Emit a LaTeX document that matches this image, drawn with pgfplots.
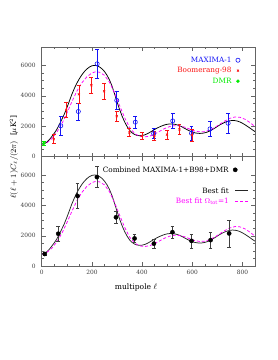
\documentclass[border=0pt]{standalone}
\usepackage{pgfplots}
\pgfplotsset{compat=1.18}
\usepackage{pgfplotstable}
\usepackage{fontspec}
\setmainfont{DejaVu Serif}
\definecolor{mblue}{RGB}{20,20,245}
\definecolor{bred}{RGB}{250,20,20}
\definecolor{dgreen}{RGB}{0,235,0}
\definecolor{mag}{RGB}{255,0,255}
\definecolor{framec}{RGB}{100,100,100}

\pgfplotstableread{
l v
2 820
10 850
20 950
30 1110
40 1320
50 1540
60 1790
70 2100
80 2440
90 2790
100 3200
110 3640
120 4090
130 4480
140 4830
150 5120
160 5380
170 5590
180 5760
190 5890
200 5970
210 6000
220 5980
230 5900
240 5780
250 5600
260 5360
270 5050
280 4650
290 4150
300 3620
310 3120
320 2680
330 2300
340 1990
350 1740
360 1570
370 1460
380 1400
390 1380
400 1390
410 1430
420 1500
430 1590
440 1690
450 1790
460 1880
470 1960
480 2030
490 2090
500 2130
510 2150
520 2150
530 2130
540 2090
550 2030
560 1950
570 1860
580 1770
590 1690
600 1620
610 1570
620 1540
630 1530
640 1540
650 1570
660 1620
670 1690
680 1780
690 1880
700 1990
710 2090
720 2180
730 2260
740 2320
750 2360
760 2380
770 2370
780 2340
790 2280
800 2200
810 2100
820 1990
830 1880
840 1760
850 1650
}\bestfit

\pgfplotstableread{
l v
2 800
20 900
40 1180
60 1600
80 2150
100 2850
120 3600
140 4300
160 4850
180 5250
200 5500
215 5580
230 5550
250 5350
270 4900
290 4200
310 3380
330 2580
350 1930
370 1530
390 1340
410 1300
430 1350
450 1490
470 1670
490 1850
510 1980
530 2040
550 2020
570 1940
590 1810
610 1690
630 1630
650 1650
670 1750
690 1920
710 2140
730 2350
750 2520
770 2610
790 2590
810 2460
830 2240
850 1980
}\flatfit

\pgfplotstableread{
l v e
76 2030 600
146 2970 570
221 6100 970
299 3700 600
373 2270 390
446 1520 330
522 2350 500
597 1540 430
671 1830 470
743 2200 680
}\maxima

\pgfplotstableread{
l v e
48 1150 300
98 3080 510
148 4100 580
198 4700 530
249 4300 500
299 2660 320
349 1590 270
399 1360 230
449 1360 290
499 1450 290
549 1790 340
599 1420 400
}\boom

\pgfplotstableread{
l v e
8 870 120
}\dmr

\pgfplotstableread{
l v e
12 810 100
66 2140 470
143 4620 830
220 5860 690
296 3220 380
370 1830 250
447 1490 300
521 2240 420
597 1670 460
673 1720 540
747 2160 880
}\comb

\begin{document}
\begin{tikzpicture}[x=1bp,y=1bp]
\path[use as bounding box] (0,0) rectangle (278,360);
\pgfplotsset{
  panel/.style={
    width=213.3bp, height=109.6bp, scale only axis,
    xmin=0, xmax=850, ymin=0, ymax=7200,
    xtick={0,200,...,800}, minor x tick num=3,
    ytick={0,2000,4000,6000}, minor y tick num=3,
    tick align=inside, tick pos=both,
    major tick length=4bp, minor tick length=2.2bp,
    axis line style={framec, line width=0.55bp},
    every tick/.style={framec, line width=0.5bp},
    every minor tick/.style={framec, line width=0.45bp},
    tick label style={font=\fontsize{5.9}{6}\selectfont, text=black!75},
    yticklabel style={xshift=-2.5bp},
    /pgf/number format/assume math mode=true,
    /pgf/number format/1000 sep={},
    legend cell align=right, legend plot pos=right,
    legend style={draw=none, fill=none, anchor=north east,
      font=\fontsize{7.3}{8}\selectfont, column sep=3.8bp, row sep=1.8bp,
      nodes={inner sep=0.6bp, text height=6bp, text depth=1.5bp}},
    markleg/.style={legend image code/.code={\draw[##1] plot coordinates {(0bp,0bp)};}},
    lineleg/.style={legend image code/.code={\draw[##1] (0bp,0bp) -- (13bp,0bp);}},
  },
  ebar/.style={error bars/.cd, y dir=both, y explicit,
    error bar style={#1, line width=0.6bp},
    error mark options={#1, rotate=90, mark size=1.9bp, line width=0.6bp}},
}
% top panel
\begin{axis}[panel, at={(41.7bp,203.3bp)}, anchor=south west,
  xticklabels={},
  legend style={at={(axis description cs:0.945,0.94)}}]
\addplot[black, line width=0.75bp, forget plot] table[x=l,y=v] {\bestfit};
\addplot[mag, line width=0.75bp, dash pattern=on 3bp off 2bp, forget plot] table[x=l,y=v] {\flatfit};
\addplot[only marks, mark=o, mblue, mark size=2.1bp, line width=0.6bp, markleg, ebar=mblue]
  table[x=l,y=v,y error=e] {\maxima};
\addlegendentry[text=mblue]{MAXIMA-1}
\addplot[only marks, mark=x, bred, mark size=1.4bp, line width=0.7bp, markleg, ebar=bred]
  table[x=l,y=v,y error=e] {\boom};
\addlegendentry[text=bred]{Boomerang-98}
\addplot[only marks, mark=*, dgreen, mark size=1.5bp, markleg, ebar=dgreen]
  table[x=l,y=v,y error=e] {\dmr};
\addlegendentry[text=dgreen]{DMR}
\end{axis}
% bottom panel
\begin{axis}[panel, at={(41.7bp,93.7bp)}, anchor=south west,
  legend style={at={(axis description cs:0.985,0.94)}}]
\addplot[black!85, line width=0.75bp, forget plot] table[x=l,y=v] {\bestfit};
\addplot[mag, line width=0.75bp, dash pattern=on 3bp off 2bp, forget plot] table[x=l,y=v] {\flatfit};
\addplot[only marks, mark=*, black, mark size=2.1bp, markleg, ebar={black!75}]
  table[x=l,y=v,y error=e] {\comb};
\addlegendentry{Combined MAXIMA-1+B98+DMR}
\addlegendimage{empty legend}
\addlegendentry{}
\addlegendimage{black!85, line width=0.75bp, lineleg}
\addlegendentry{Best fit}
\addlegendimage{mag, line width=0.75bp, dash pattern=on 3bp off 2bp, lineleg}
\addlegendentry[text=mag]{Best fit $\Omega_{\mathrm{tot}}$=1}
\end{axis}
\node[rotate=90, font=\fontsize{7.6}{8}\selectfont] at (14bp,203bp) {$\ell(\ell+1)C_\ell/(2\pi)$~~[$\mu$K$^2$]};
\node[font=\fontsize{7.6}{8}\selectfont] at (136bp,73bp) {multipole $\ell$};
\end{tikzpicture}
\end{document}
